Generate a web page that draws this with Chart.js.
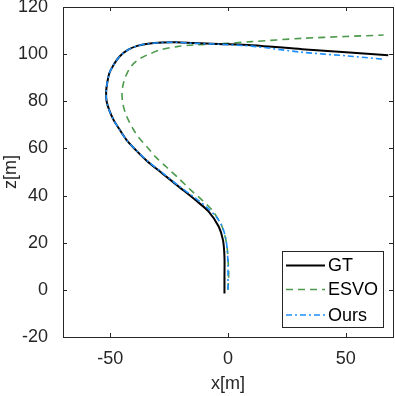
<!DOCTYPE html>
<html>
<head>
<meta charset="utf-8">
<script src="https://cdn.jsdelivr.net/npm/chart.js@4"></script>
<style>
  html, body { margin: 0; padding: 0; background: #fff; }
  #wrap { width: 395px; height: 396px; }
</style>
</head>
<body>
<div id="wrap"><canvas id="traj"></canvas></div>
<script>
// trajectories (x[m], z[m])
const gtX = [-1.5, -1.5, -1.5, -2.1, -3.9, -8.2, -13.8, -20.9, -28, -34.5, -39.3, -43, -46, -48.5, -50.3, -51.5, -51.7, -51.2, -50.3, -48.5, -46, -42.5, -38.5, -34, -28, -22, -14.6, -4, 10, 31.4, 50, 68];
const gtZ = [-1.5, 5, 14, 21, 26.8, 33.2, 38.1, 43.8, 49.5, 54.8, 59.5, 63.5, 68, 72, 76, 80, 84, 88, 92, 95.5, 99, 101.8, 103.5, 104.4, 104.9, 105, 104.7, 104.3, 103.8, 102.1, 100.8, 99.5];

const esvoX = [0, 0.3, 0, -0.4, -1.2, -2.5, -4.5, -6.8, -11, -16, -20.9, -26, -30.8, -34.4, -37.5, -40, -42, -43.5, -44.6, -45, -44.5, -43.5, -42, -40, -37.5, -34.4, -28.7, -21.6, -14.6, -3.2, 10, 31.4, 50, 66];
const esvoZ = [0, 7, 13, 18.3, 22.5, 26.8, 30.5, 33.9, 38.1, 42.5, 47.3, 52, 56.5, 60.7, 64.2, 67.8, 71.5, 74.9, 79, 83.4, 87, 90.4, 93.5, 96.1, 98, 99.6, 101.8, 103.2, 103.9, 104.4, 105.3, 106.7, 107.5, 108.1];

const oursX = [0, 0, -0.3, -1, -2.5, -5, -9, -14, -21, -28, -34.5, -39.3, -43, -46, -48.5, -50.3, -51.5, -51.7, -51.2, -50.3, -48.5, -46, -42.5, -38.5, -34, -28, -22, -14.6, -4, 10, 31.4, 50, 66.4];
const oursZ = [0, 10, 17, 22, 27, 31, 35, 39, 44.2, 49.8, 55, 59.6, 63.5, 68, 72, 76, 80, 84, 88, 92, 95.5, 99, 101.8, 103.5, 104.4, 104.9, 105, 104.6, 104.2, 103.4, 100.8, 99.3, 97.8];

const seriesNames = ['GT', 'ESVO', 'Ours'];
const xTicks = [-50, 0, 50];
const zTicks = [-20, 0, 20, 40, 60, 80, 100, 120];

const pairs = (xs, ys) => xs.map((x, i) => ({ x: x, y: ys[i] }));

const fontFam = "'Liberation Sans', Arial, sans-serif";
const axisColor = '#262626';

const styles = [
  { color: '#000000', width: 2, dash: [] },
  { color: '#4c9a4c', width: 1.6, dash: [7, 5] },
  { color: '#1e8fff', width: 1.6, dash: [6, 3, 2, 3] }
];

// MATLAB style box, inward ticks and an inset legend
const boxPlugin = {
  id: 'boxPlugin',
  afterDatasetsDraw(chart) {
    const ctx = chart.ctx;
    const a = chart.chartArea;
    const xs = chart.scales.x, ys = chart.scales.y;
    ctx.save();
    ctx.strokeStyle = axisColor;
    ctx.lineWidth = 1;
    ctx.setLineDash([]);
    ctx.strokeRect(Math.round(a.left) + 0.5, Math.round(a.top) + 0.5,
      Math.round(a.right - a.left), Math.round(a.bottom - a.top));
    const tl = 4;
    ctx.beginPath();
    xTicks.forEach(v => {
      const p = Math.round(xs.getPixelForValue(v)) + 0.5;
      ctx.moveTo(p, a.bottom); ctx.lineTo(p, a.bottom - tl);
      ctx.moveTo(p, a.top); ctx.lineTo(p, a.top + tl);
    });
    zTicks.forEach(v => {
      const p = Math.round(ys.getPixelForValue(v)) + 0.5;
      ctx.moveTo(a.left, p); ctx.lineTo(a.left + tl, p);
      ctx.moveTo(a.right, p); ctx.lineTo(a.right - tl, p);
    });
    ctx.stroke();

    // legend box
    const lx = 282, ly = 251, lw = 101, lh = 76;
    ctx.fillStyle = '#fff';
    ctx.fillRect(lx, ly, lw, lh);
    ctx.strokeStyle = axisColor;
    ctx.strokeRect(lx + 0.5, ly + 0.5, lw, lh);
    ctx.font = '18px ' + fontFam;
    ctx.textBaseline = 'middle';
    ctx.textAlign = 'left';
    const rows = [265.5, 289.5, 315];
    seriesNames.forEach((name, i) => {
      const st = styles[i];
      ctx.strokeStyle = st.color;
      ctx.lineWidth = st.width;
      ctx.setLineDash(st.dash);
      ctx.beginPath();
      ctx.moveTo(286, rows[i]);
      ctx.lineTo(325, rows[i]);
      ctx.stroke();
      ctx.setLineDash([]);
      ctx.fillStyle = '#000';
      ctx.fillText(name, 328, rows[i] + 1);
    });
    ctx.restore();
  }
};

const seriesData = [pairs(gtX, gtZ), pairs(esvoX, esvoZ), pairs(oursX, oursZ)];
const drawOrder = [2, 3, 1];

new Chart(document.getElementById('traj').getContext('2d'), {
  type: 'scatter',
  data: {
    datasets: seriesNames.map((name, i) => ({
      label: name,
      data: seriesData[i],
      showLine: true,
      borderColor: styles[i].color,
      borderWidth: styles[i].width,
      borderDash: styles[i].dash,
      pointRadius: 0,
      tension: 0.3,
      fill: false,
      order: drawOrder[i]
    }))
  },
  options: {
    responsive: true,
    maintainAspectRatio: false,
    animation: false,
    layout: { padding: { top: 7, right: 2, left: 0, bottom: 0 } },
    plugins: {
      legend: { display: false },
      tooltip: { enabled: false }
    },
    scales: {
      x: {
        type: 'linear',
        min: -70,
        max: 70,
        afterBuildTicks: s => { s.ticks = xTicks.map(v => ({ value: v })); },
        afterFit: s => { s.height = 59; s.paddingLeft = 0; s.paddingRight = 0; },
        grid: { display: false },
        border: { display: false },
        ticks: { color: axisColor, font: { size: 18, family: fontFam }, padding: 3, maxRotation: 0 },
        title: { display: true, text: 'x[m]', color: axisColor, font: { size: 18, family: fontFam }, padding: { top: 0, bottom: 1 } }
      },
      y: {
        type: 'linear',
        min: -20,
        max: 120,
        afterBuildTicks: s => { s.ticks = zTicks.map(v => ({ value: v })); },
        afterFit: s => { s.width = 63; s.paddingTop = 0; s.paddingBottom = 0; },
        grid: { display: false },
        border: { display: false },
        ticks: { color: axisColor, font: { size: 18, family: fontFam }, padding: 7 },
        title: { display: true, text: 'z[m]', color: axisColor, font: { size: 18, family: fontFam }, padding: { top: 0, bottom: 0 } }
      }
    }
  },
  plugins: [boxPlugin]
});
</script>
</body>
</html>
